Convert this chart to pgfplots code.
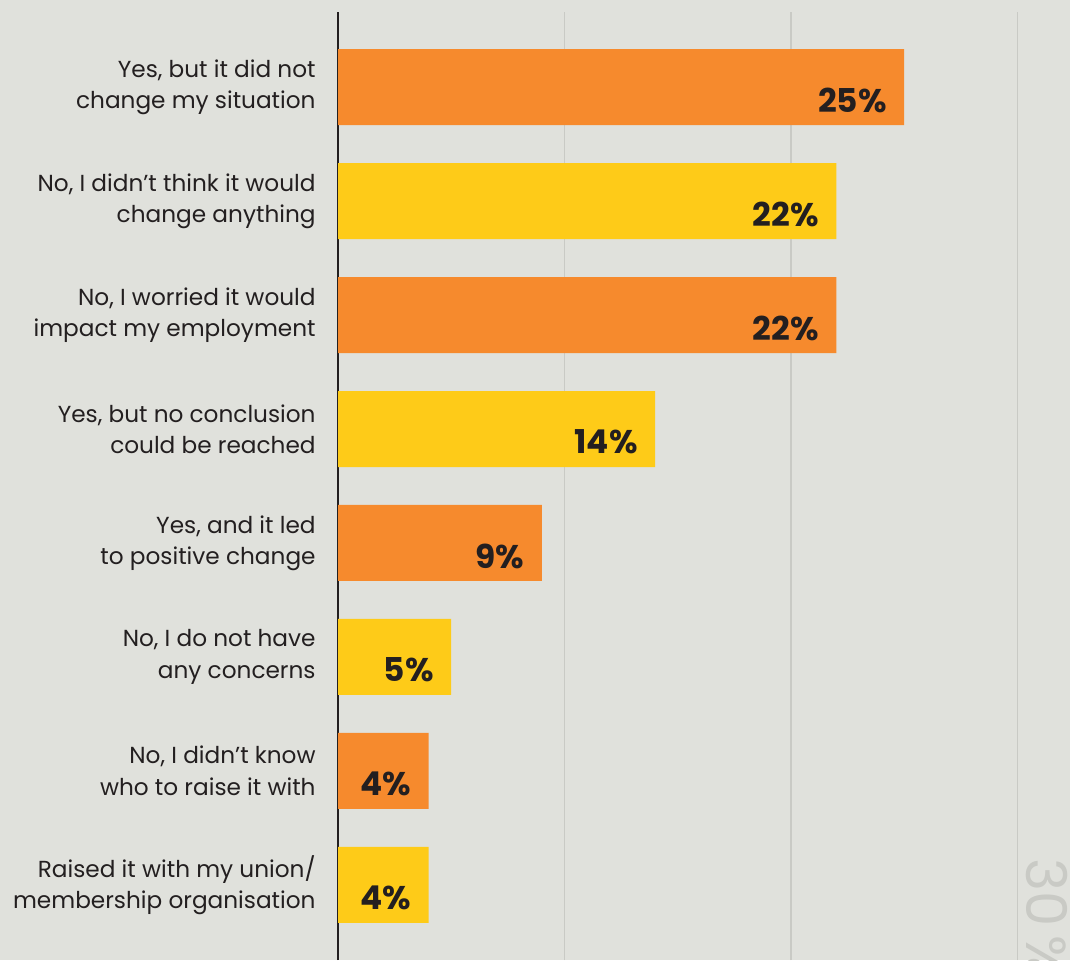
\documentclass[border=0pt]{standalone}
\usepackage{pgfplots}
\pgfplotsset{compat=1.18}
\usepackage{fontspec}
\setmainfont{Poppins}
\definecolor{bgcol}{HTML}{E0E1DC}
\definecolor{gridcol}{HTML}{C9CAC5}
\definecolor{orangebar}{HTML}{F68A2D}
\definecolor{yellowbar}{HTML}{FECB18}
\definecolor{txt}{HTML}{231F20}
\begin{document}
\begin{tikzpicture}
\useasboundingbox (0,0) rectangle (535pt,480pt);
\clip (0,0) rectangle (535pt,480pt);
\fill[bgcol] (0,0) rectangle (535pt,480pt);
\begin{axis}[
  at={(169pt,0pt)}, anchor=south west,
  scale only axis, width=366pt, height=474pt,
  xbar, bar width=38pt,
  xmin=0, xmax=32.32, ymin=-0.66, ymax=7.66,
  axis lines*=left,
  x axis line style={draw=none},
  y axis line style={draw=txt, line width=1.3pt},
  xtick={10,20,30}, xticklabels={},
  xmajorgrids, grid style={gridcol, line width=0.75pt},
  ytick={0,...,7}, major tick length=0pt,
  yticklabels={
    {Raised it with my union/\\membership organisation},
    {No, I didn’t know\\who to raise it with},
    {No, I do not have\\any concerns},
    {Yes, and it led\\to positive change},
    {Yes, but no conclusion\\could be reached},
    {No, I worried it would\\impact my employment},
    {No, I didn’t think it would\\change anything},
    {Yes, but it did not\\change my situation}},
  yticklabel style={align=right, font=\fontsize{11.6}{15.6}\selectfont, text=txt, inner sep=0pt, xshift=-11pt},
  nodes near coords={\pgfmathprintnumber[assume math mode=true]{\pgfplotspointmeta}\%},
  nodes near coords style={anchor=east, xshift=-8.5pt, yshift=-6.5pt, font=\fontsize{16.4}{18}\selectfont\bfseries, text=txt, inner sep=0pt},
]
\addplot[fill=orangebar, draw=none, bar shift=0pt] coordinates {(25,7) (22,5) (9,3) (4,1)};
\addplot[fill=yellowbar, draw=none, bar shift=0pt] coordinates {(22,6) (14,4) (5,2) (4,0)};
\end{axis}
\node[rotate=-90, anchor=north west, inner sep=0pt, text=gridcol, font=\fontsize{28}{30}\selectfont] at (534pt,51pt) {30\,\%};
\end{tikzpicture}
\end{document}
